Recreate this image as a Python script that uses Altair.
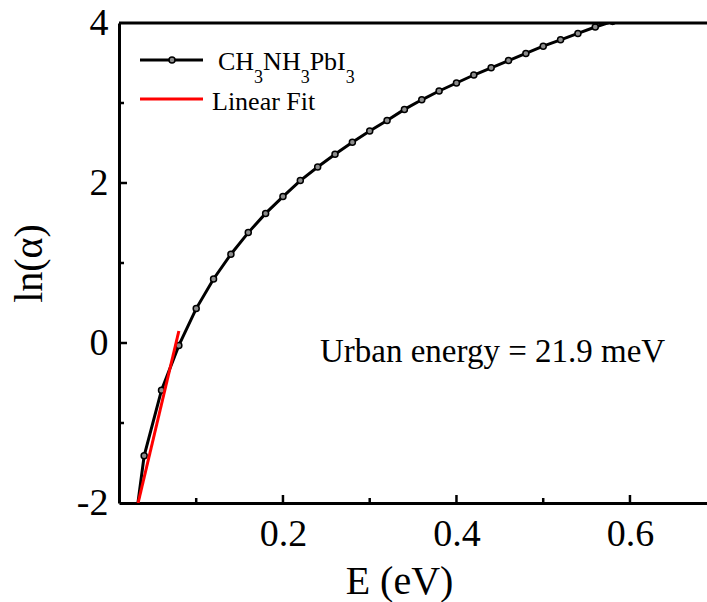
import altair as alt
import pandas as pd

# ---- data ----
energy = [0.02, 0.04, 0.06, 0.08, 0.10, 0.12, 0.14, 0.16, 0.18, 0.20,
          0.22, 0.24, 0.26, 0.28, 0.30, 0.32, 0.34, 0.36, 0.38, 0.40,
          0.42, 0.44, 0.46, 0.48, 0.50, 0.52, 0.54, 0.56, 0.58, 0.60]
ln_alpha = [-3.05, -1.41, -0.59, -0.03, 0.43, 0.80, 1.11, 1.38, 1.62, 1.83,
            2.03, 2.20, 2.36, 2.51, 2.65, 2.78, 2.92, 3.04, 3.15, 3.25,
            3.35, 3.44, 3.53, 3.62, 3.71, 3.79, 3.87, 3.95, 4.02, 4.10]
fit_x = [0.033, 0.080]
fit_y = [-2.0, 0.15]

x_ticks_major = [0.2, 0.4, 0.6]
x_ticks_minor = [0.1, 0.3, 0.5]
y_ticks_major = [-2, 0, 2, 4]
y_ticks_minor = [-1, 1, 3]

annot_text = ["Urban energy = 21.9 meV"]
annot_x = [0.2427]
annot_y = [-0.24]

legend_fit = "Linear Fit"
legend_pieces = [("CH", False), ("3", True), ("NH", False), ("3", True),
                 ("PbI", False), ("3", True)]

# ---- layout ----
W, H = 588, 480
FONT = "Times New Roman, Liberation Serif, serif"
X_DOM = [0.011, 0.6888]
Y_DOM = [-2, 4]

xs = alt.Scale(domain=X_DOM, nice=False, zero=False)
ys = alt.Scale(domain=Y_DOM, nice=False, zero=False)

df = pd.DataFrame({"E": energy, "lna": ln_alpha})
fit_df = pd.DataFrame({"E": fit_x, "lna": fit_y})

x_axis = alt.Axis(values=x_ticks_major, labelExpr="format(datum.value, '.1f')",
                  title="E (eV)", grid=False, ticks=False, domainWidth=3,
                  domainColor="black", labelFont=FONT, labelFontSize=38,
                  labelColor="black", labelPadding=12, labelFlush=False,
                  labelOverlap=False, titleFont=FONT, titleFontSize=40,
                  titleFontWeight="normal", titleColor="black",
                  titleX=280, titleY=90, titleBaseline="alphabetic")
y_axis = alt.Axis(values=y_ticks_major, labelExpr="'' + datum.value",
                  title="ln(α)", grid=False, ticks=False, domainWidth=3,
                  domainColor="black", labelFont=FONT, labelFontSize=38,
                  labelColor="black", labelPadding=11, labelFlush=False,
                  labelOverlap=False, titleFont=FONT, titleFontSize=40,
                  titleFontWeight="normal", titleColor="black",
                  titleX=-78, titleBaseline="alphabetic")

base = alt.Chart(df)

curve = base.mark_line(color="black", strokeWidth=3, clip=True).encode(
    x=alt.X("E:Q", scale=xs, axis=x_axis),
    y=alt.Y("lna:Q", scale=ys, axis=y_axis),
)
pts = base.mark_point(filled=True, fill="#8c8c8c", stroke="black",
                      strokeWidth=1.5, size=36, opacity=1, clip=True).encode(
    x=alt.X("E:Q", scale=xs), y=alt.Y("lna:Q", scale=ys))

fit = alt.Chart(fit_df).mark_line(color="#ff0000", strokeWidth=3, clip=True).encode(
    x=alt.X("E:Q", scale=xs), y=alt.Y("lna:Q", scale=ys))

# inward ticks
def xticks(vals, length):
    return alt.Chart(pd.DataFrame({"v": vals})).mark_rule(
        color="black", strokeWidth=2.5).encode(
        x=alt.X("v:Q", scale=xs), y=alt.value(H), y2=alt.value(H - length))

def yticks(vals, length):
    return alt.Chart(pd.DataFrame({"v": vals})).mark_rule(
        color="black", strokeWidth=2.5).encode(
        y=alt.Y("v:Q", scale=ys), x=alt.value(0), x2=alt.value(length))

top_frame = alt.Chart(pd.DataFrame({"a": [0]})).mark_rule(
    color="black", strokeWidth=3).encode(
    x=alt.value(0), x2=alt.value(W), y=alt.value(0))

annot = alt.Chart(pd.DataFrame({"t": annot_text, "x": annot_x, "y": annot_y})).mark_text(
    font=FONT, fontSize=33, align="left", baseline="alphabetic", color="black").encode(
    x=alt.X("x:Q", scale=xs), y=alt.Y("y:Q", scale=ys), text="t:N")

# ---- legend (manual, for subscripts) ----
leg_layers = []
leg_layers.append(alt.Chart(pd.DataFrame({"a": [0]})).mark_rule(
    color="black", strokeWidth=3).encode(x=alt.value(21), x2=alt.value(84), y=alt.value(37)))
leg_layers.append(alt.Chart(pd.DataFrame({"a": [0]})).mark_point(
    filled=True, fill="#8c8c8c", stroke="black", strokeWidth=1.5, size=36, opacity=1).encode(
    x=alt.value(53), y=alt.value(37)))
leg_layers.append(alt.Chart(pd.DataFrame({"a": [0]})).mark_rule(
    color="#ff0000", strokeWidth=3).encode(x=alt.value(21), x2=alt.value(84), y=alt.value(76)))

main_size, sub_size = 26, 18
widths = {"CH": 1.389, "NH": 1.444, "PbI": 1.389, "3": 0.5}
cx = 99
for txt, is_sub in legend_pieces:
    size = sub_size if is_sub else main_size
    yy = 60 if is_sub else 47
    leg_layers.append(alt.Chart(pd.DataFrame({"t": [txt]})).mark_text(
        font=FONT, fontSize=size, align="left", baseline="alphabetic", color="black").encode(
        x=alt.value(cx), y=alt.value(yy), text="t:N"))
    cx += widths[txt] * size

leg_layers.append(alt.Chart(pd.DataFrame({"t": [legend_fit]})).mark_text(
    font=FONT, fontSize=main_size, align="left", baseline="alphabetic", color="black").encode(
    x=alt.value(93), y=alt.value(87), text="t:N"))

chart = alt.layer(
    curve, pts, fit,
    xticks(x_ticks_major, 8), xticks(x_ticks_minor, 5),
    yticks([0, 2], 8), yticks(y_ticks_minor, 5),
    top_frame, annot, *leg_layers
).properties(
    width=W, height=H,
    autosize=alt.AutoSizeParams(type="none"),
    padding={"left": 119, "top": 23, "right": 0, "bottom": 99},
    background="white",
).configure_view(stroke=None)

chart.save("out.html", embed_options={"renderer": "svg", "actions": False})
